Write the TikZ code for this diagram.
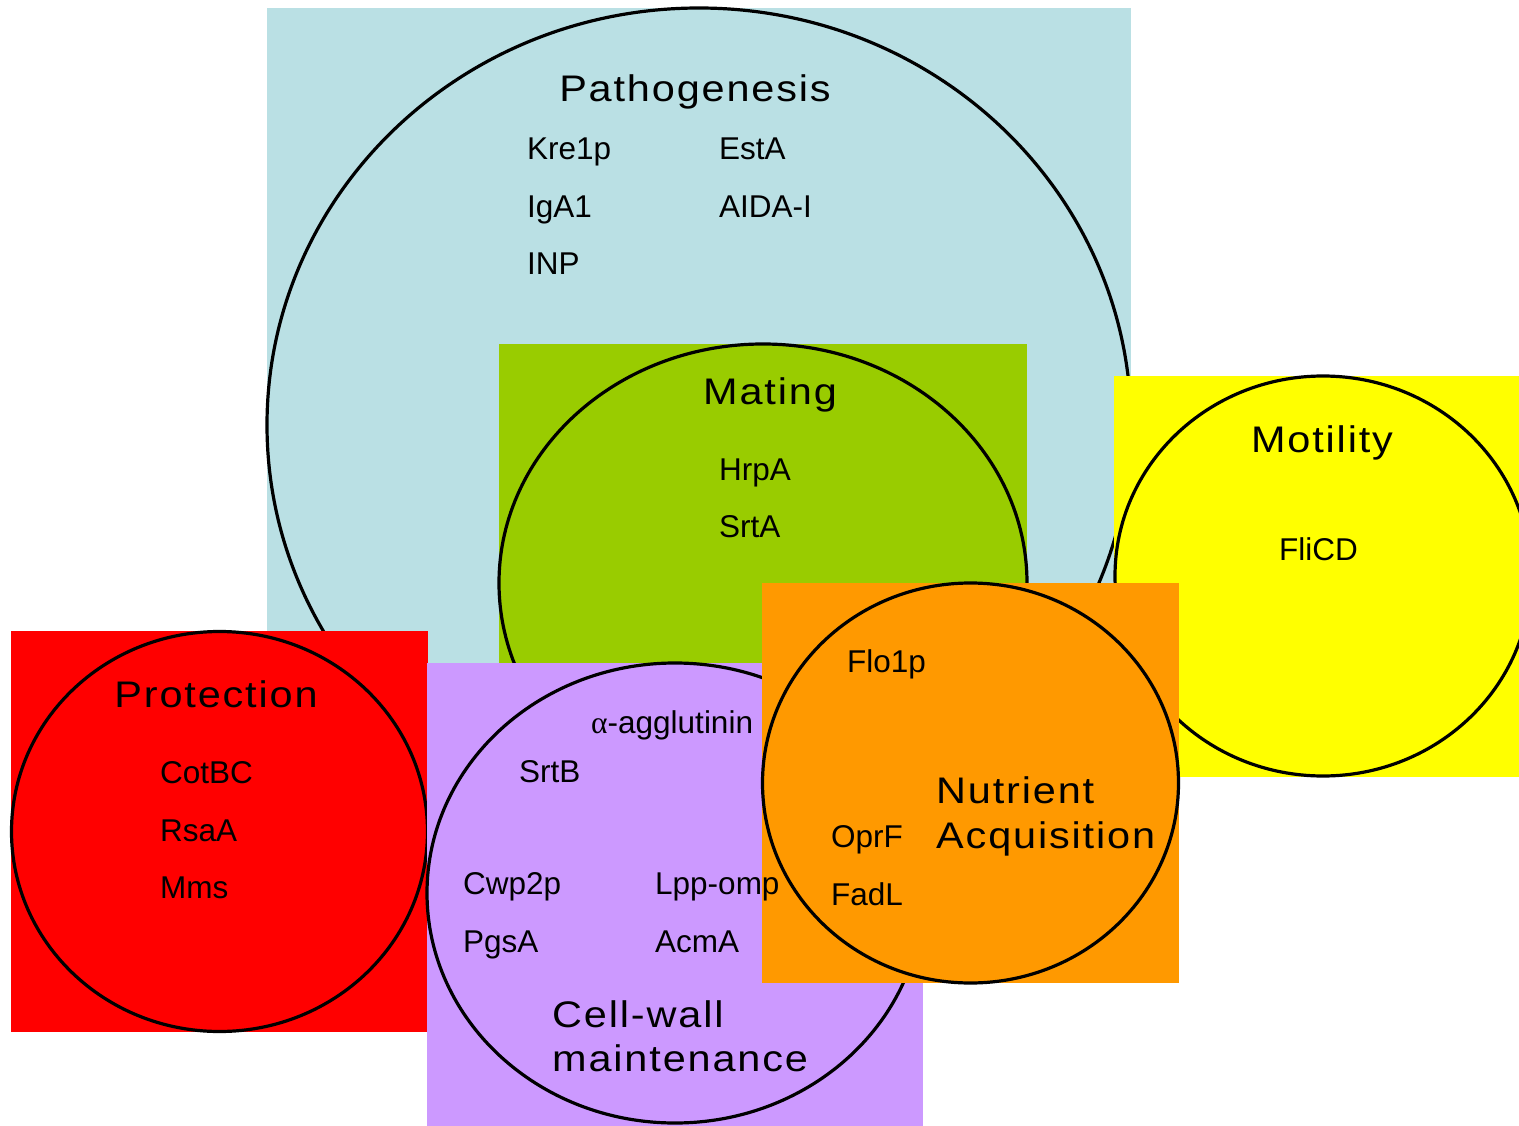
\documentclass[tikz,border=0pt]{standalone}
\usepackage{fontspec}
\setmainfont{Liberation Sans}
\newfontfamily\titlefont[LetterSpace=5,FakeStretch=1.12]{Liberation Sans}
\newfontfamily\grkfont{Liberation Serif}
\definecolor{pathoC}{RGB}{186,224,228}
\definecolor{matingC}{RGB}{153,204,0}
\definecolor{motilC}{RGB}{255,255,0}
\definecolor{protC}{RGB}{255,0,0}
\definecolor{cellC}{RGB}{204,153,255}
\definecolor{nutrC}{RGB}{255,153,0}
\tikzset{
  ring/.style={draw=black, line width=3.2pt},
  lbl/.style={anchor=base west, inner sep=0pt, font=\fontsize{31.5}{36}\selectfont},
  ttl/.style={anchor=base, inner sep=0pt, font=\titlefont\fontsize{37}{44}\selectfont},
  ttlw/.style={anchor=base west, inner sep=0pt, font=\titlefont\fontsize{37}{44}\selectfont},
}
\begin{document}
\begin{tikzpicture}[x=1pt,y=-1pt]
\useasboundingbox (0,0) rectangle (1519,1126);
\clip (0,0) rectangle (1519,1126);
% Pathogenesis
\fill[pathoC] (267,8) rectangle (1131,842);
\draw[ring] (699,425) ellipse [x radius=432pt, y radius=417pt];
% Mating
\fill[matingC] (499,344) rectangle (1027,822);
\draw[ring] (763,583) ellipse [x radius=264pt, y radius=239pt];
% Motility
\fill[motilC] (1114,376) rectangle (1531,777);
\draw[ring] (1323,576) ellipse [x radius=208pt, y radius=200pt];
% Protection
\fill[protC] (11,631) rectangle (428,1032);
\draw[ring] (219.5,831.5) ellipse [x radius=208pt, y radius=200pt];
% Cell-wall
\fill[cellC] (427,663) rectangle (923,1126);
\draw[ring] (675,893) ellipse [x radius=248pt, y radius=230pt];
% Nutrient
\fill[nutrC] (762,583) rectangle (1179,983);
\draw[ring] (970.5,783) ellipse [x radius=208pt, y radius=200pt];

% Pathogenesis texts
\node[ttl] (tPath) at (695,102) {Pathogenesis};
\node[lbl] (kre) at (527,160) {Kre1p};
\node[lbl] (esta) at (719,160) {EstA};
\node[lbl] (iga) at (527,218) {IgA1};
\node[lbl] (aida) at (719,218) {AIDA-I};
\node[lbl] (inp) at (527,275) {INP};
% Mating texts
\node[ttl] (tMat) at (770,404) {Mating};
\node[lbl] (hrpa) at (719,480) {HrpA};
\node[lbl] (srta) at (719,537) {SrtA};
% Motility texts
\node[ttl] (tMot) at (1322,452) {Motility};
\node[lbl] (flicd) at (1279,560) {FliCD};
% Protection texts
\node[ttl] (tProt) at (216,707) {Protection};
\node[lbl] (cotbc) at (160,783) {CotBC};
\node[lbl] (rsaa) at (160,841) {RsaA};
\node[lbl] (mms) at (160,898) {Mms};
% Cell-wall texts
\node[lbl] (aggl) at (591,733) {{\grkfont α}-agglutinin};
\node[lbl] (srtb) at (519,782) {SrtB};
\node[lbl] (cwp) at (463,894) {Cwp2p};
\node[lbl] (lpp) at (655,894) {Lpp-omp};
\node[lbl] (pgsa) at (463,952) {PgsA};
\node[lbl] (acma) at (655,952) {AcmA};
\node[ttlw] (tCell1) at (552,1027) {Cell-wall};
\node[ttlw] (tCell2) at (552,1071) {maintenance};
% Nutrient texts
\node[lbl] (flo) at (847,672) {Flo1p};
\node[lbl] (oprf) at (831,847) {OprF};
\node[lbl] (fadl) at (831,905) {FadL};
\node[ttlw] (tNut1) at (936,803) {Nutrient};
\node[ttlw] (tNut2) at (936,848) {Acquisition};
\end{tikzpicture}
\end{document}
